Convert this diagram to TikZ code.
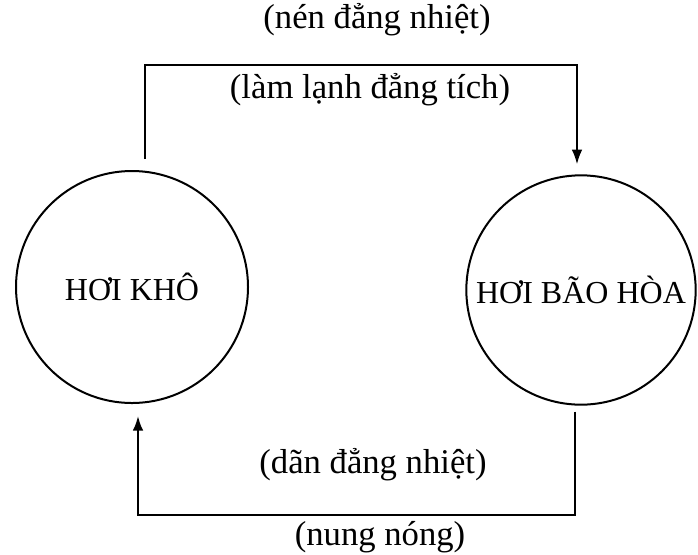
\documentclass[tikz,border=0pt]{standalone}
\usepackage{fontspec}
\setmainfont{Liberation Serif}
\usetikzlibrary{arrows.meta,positioning,calc}

\begin{document}
\begin{tikzpicture}[
    x=0.75pt, y=-0.75pt,
    state/.style={draw, circle, line width=1.5pt, inner sep=0pt, font=\fontsize{24}{28}\selectfont},
    flow/.style={-{Latex[length=11pt,width=8pt]}, line width=1.5pt},
    lbl/.style={font=\fontsize{26}{30}\selectfont, inner sep=1pt}
]
\useasboundingbox (0,0) rectangle (698,554);

\node[state, minimum size=174pt] (dry) at (132,287) {HƠI KHÔ};
\node[state, minimum size=172pt] (sat) at (581,290) {HƠI BÃO HÒA};

\coordinate (ctop) at (360,65);
\coordinate (cbot) at (360,515);

\draw[flow] ($(dry.north)+(13,-11)$) |- (ctop) -| ($(sat.north)+(-4,-10)$);
\draw[flow] ($(sat.south)+(-6,6)$) |- (cbot) -| ($(dry.south)+(6,12)$);

\node[lbl] (iso) at (377,20) {(nén đẳng nhiệt)};
\node[lbl] (cool) at (370,90) {(làm lạnh đẳng tích)};
\node[lbl] (expand) at (373,465) {(dãn đẳng nhiệt)};
\node[lbl] (heat) at (380,537) {(nung nóng)};
\end{tikzpicture}
\end{document}
